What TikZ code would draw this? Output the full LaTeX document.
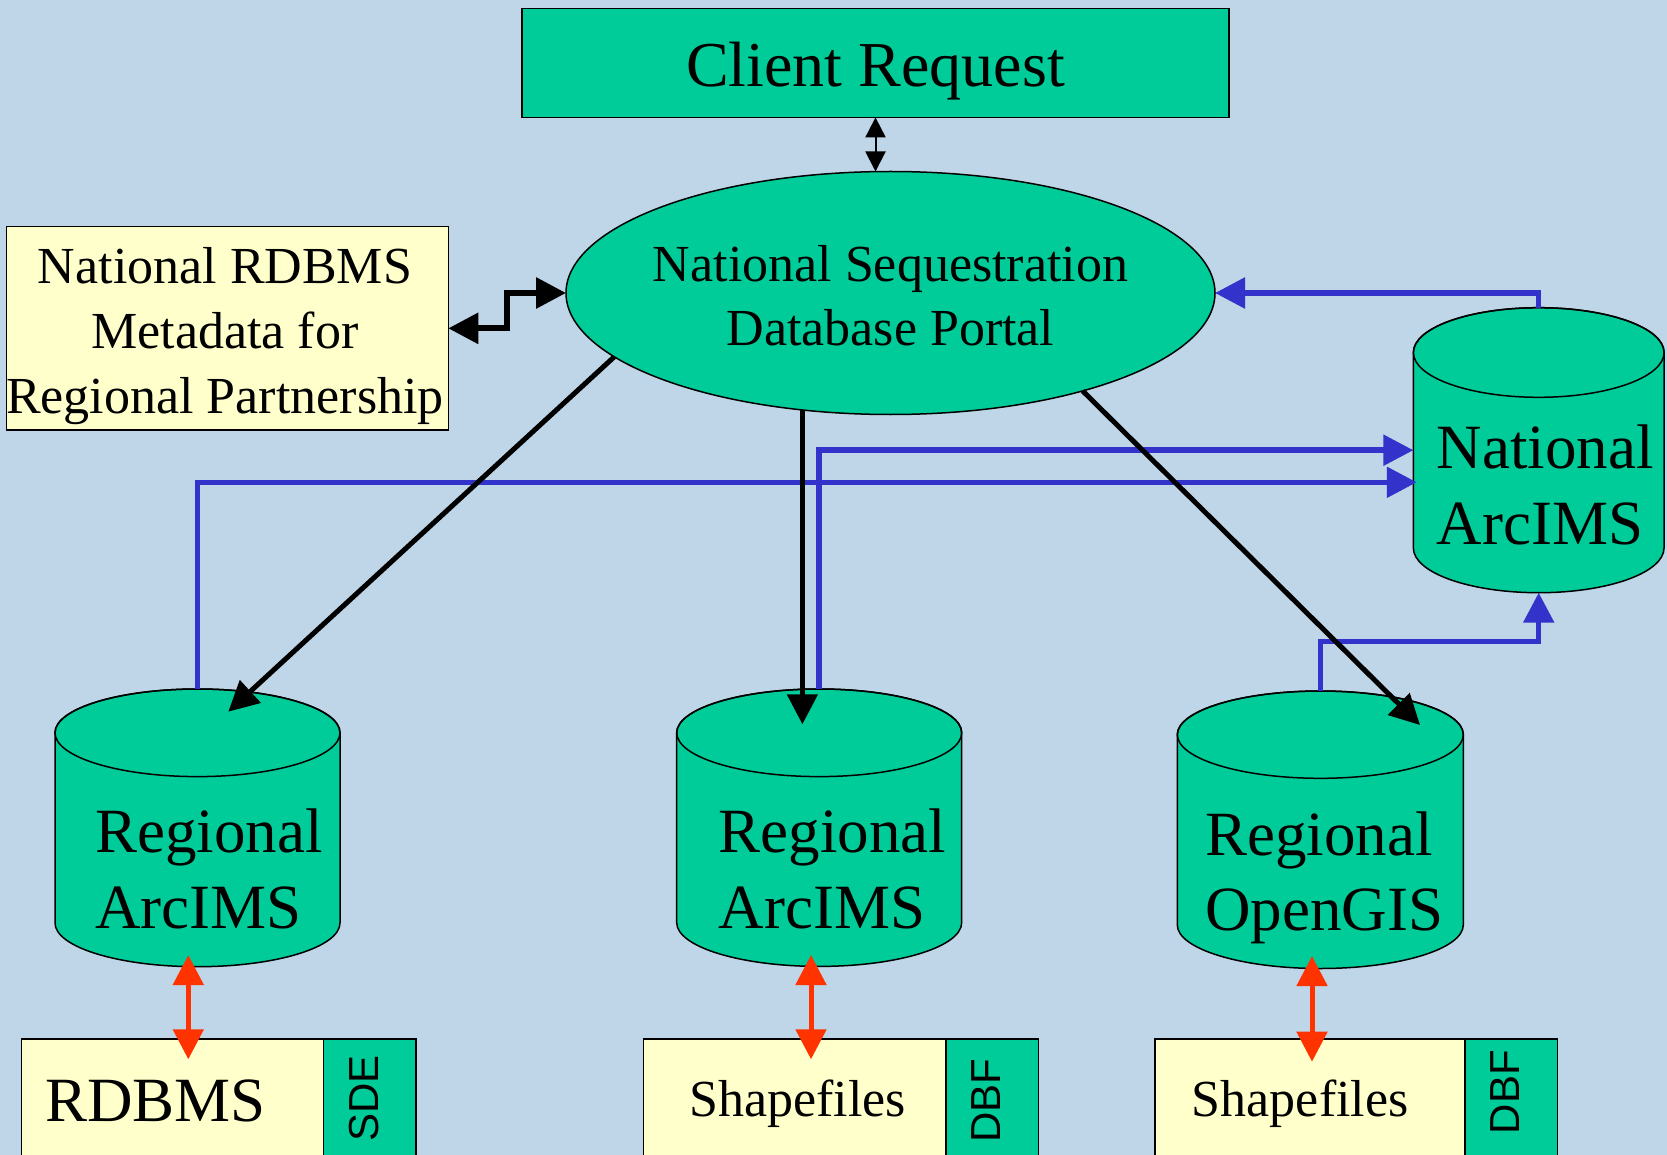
\documentclass[tikz,border=0pt]{standalone}
\usepackage{fontspec}
\setmainfont{Liberation Serif}
\newfontfamily\sansf{Liberation Sans}
\usetikzlibrary{arrows.meta,calc,shapes.geometric}
\definecolor{bg}{RGB}{191,213,232}
\definecolor{nodegreen}{RGB}{0,204,153}
\definecolor{paleyellow}{RGB}{255,255,204}
\definecolor{linkblue}{RGB}{51,51,204}
\definecolor{linkred}{RGB}{255,51,0}
\newcommand\drawcyl[6]{% name, cx, top, bottom, rx, ry
  \path[draw=black,line width=1.5pt,fill=nodegreen] ({#2-#5},{-(#3+#6)}) -- ({#2-#5},{-(#4-#6)})
    arc[start angle=180,end angle=360,x radius=#5pt,y radius=#6pt] -- ({#2+#5},{-(#3+#6)})
    arc[start angle=0,end angle=180,x radius=#5pt,y radius=#6pt] -- cycle;
  \draw[line width=1.5pt] (#2,{-(#3+#6)}) ellipse[x radius=#5pt,y radius=#6pt];
  \node[inner sep=0pt,outer sep=0pt,minimum width={2*#5pt},minimum height={(#4-#3)*1pt}] (#1) at (#2,{-(#3+#4)/2}) {};
}
\begin{document}
\begin{tikzpicture}[x=1pt,y=1pt,
  shapeline/.style={draw=black,line width=1.5pt},
  greenbox/.style={shapeline,fill=nodegreen,inner sep=0pt,outer sep=0pt},
  yellowbox/.style={shapeline,fill=paleyellow,inner sep=0pt,outer sep=0pt},
  mainarrow/.style={line width=5pt,-{Triangle[length=30pt,width=30pt]}},
  bluearrow/.style={draw=linkblue,line width=5.5pt,-{Triangle[length=30pt,width=30pt]}},
  redarrow/.style={draw=linkred,line width=5pt,{Triangle[length=30pt,width=30pt]}-{Triangle[length=30pt,width=30pt]}},
  thinarrow/.style={line width=2pt,{Triangle[length=20pt,width=20pt]}-{Triangle[length=20pt,width=20pt]}},
  metaarrow/.style={line width=6pt,{Triangle[length=30pt,width=30pt]}-{Triangle[length=30pt,width=30pt]}},
  cyltext/.style={anchor=base west,align=left,inner sep=0pt,font=\fontsize{63}{75.6}\selectfont},
  boxtext/.style={anchor=base west,inner sep=0pt},
  tagtext/.style={rotate=90,inner sep=0pt,font=\sansf\fontsize{42}{48}\selectfont}
]
\useasboundingbox (0,0) rectangle (1667,-1155);
\fill[bg] (0,0) rectangle (1667,-1155);

% top nodes
\node[rectangle,greenbox,minimum width=707pt,minimum height=109pt,
      font=\fontsize{64}{70}\selectfont,text height=47.6pt,text depth=0pt] (client) at (875.5,-62.9) {Client Request};
\node[ellipse,greenbox,minimum width=649pt,minimum height=243pt] (portal) at (890.5,-293) {};
\node[anchor=base,align=center,inner sep=0pt,font=\fontsize{52}{63.3}\selectfont] (portaltext) at (890.5,-345) {National Sequestration\\Database Portal};
\node[yellowbox,minimum width=441.6pt,minimum height=203.3pt] (meta) at (227.5,-328.35) {};
\node[anchor=base,align=center,inner sep=0pt,font=\fontsize{52}{65}\selectfont] (metatext) at (225,-413.3) {National RDBMS\\Metadata for\\Regional Partnership};

% cylinders
\drawcyl{natl}{1538.7}{307.7}{592.7}{125.35}{44.8}
\drawcyl{cylL}{197.5}{689}{966.7}{142.5}{43.8}
\drawcyl{cylM}{819.2}{689}{966.4}{142.5}{43.8}
\drawcyl{cylR}{1320.3}{691}{968.5}{143}{43.65}
\node[cyltext] (natltext) at (1436.7,-544) {National\\ArcIMS};
\node[cyltext] (cylLtext) at (95,-928.3) {Regional\\ArcIMS};
\node[cyltext] (cylMtext) at (718.7,-928.3) {Regional\\ArcIMS};
\node[cyltext] (cylRtext) at (1205,-930.7) {Regional\\OpenGIS};

% bottom stores
\node[yellowbox,minimum width=301.6pt,minimum height=136pt] (boxL) at (172.5,-1107) {};
\node[greenbox,minimum width=92.7pt,minimum height=136pt] (sdeL) at (369.65,-1107) {};
\node[yellowbox,minimum width=302.7pt,minimum height=136pt] (boxM) at (794.65,-1107) {};
\node[greenbox,minimum width=92.3pt,minimum height=136pt] (dbfM) at (992.15,-1107) {};
\node[yellowbox,minimum width=310pt,minimum height=136pt] (boxR) at (1310,-1107) {};
\node[greenbox,minimum width=92.3pt,minimum height=136pt] (dbfR) at (1511.15,-1107) {};
\node[boxtext,font=\fontsize{63}{70}\selectfont] (boxLtext) at (45,-1121.7) {RDBMS};
\node[boxtext,font=\fontsize{52}{60}\selectfont] (boxMtext) at (689.3,-1116.7) {Shapefiles};
\node[boxtext,font=\fontsize{52}{60}\selectfont] (boxRtext) at (1191.7,-1116.7) {Shapefiles};
\node[tagtext] (sdeLtext) at (364,-1098.3) {SDE};
\node[tagtext] (dbfMtext) at (985.8,-1100.8) {DBF};
\node[tagtext] (dbfRtext) at (1505,-1092.2) {DBF};

% connectors
\draw[thinarrow] (client.south) -- (client.south |- portal.north);
\draw[metaarrow] (meta.east) -- ++(58.5,0) |- (portal.west);
\draw[bluearrow] (natl.north) |- (portal.east);
\draw[bluearrow] (cylM.north) |- (natl.west);
\draw[bluearrow] (cylL.north) |- ($(natl.west)+(3.4,-32.1)$);
\draw[bluearrow] (cylR.north) -- ++(0,49.3) -| (natl.south);
\draw[mainarrow] (portal.193.3) -- ($(cylL.north)+(30.8,-22.7)$);
\draw[mainarrow] (portal.233) -- ($(portal.233 |- cylM.north)+(0,-35.3)$);
\draw[mainarrow] (portal.333.4) -- ($(cylR.north)+(99.7,-34)$);
\draw[redarrow] ($(cylL.south)+(-9.2,11.7)$) -- ($(boxL.north)+(15.8,-20.3)$);
\draw[redarrow] ($(cylM.south)+(-8.2,11.4)$) -- ($(boxM.north)+(16.35,-20.3)$);
\draw[redarrow] ($(cylR.south)+(-8.3,12.5)$) -- ($(boxR.north)+(2,-22.7)$);
\end{tikzpicture}
\end{document}
